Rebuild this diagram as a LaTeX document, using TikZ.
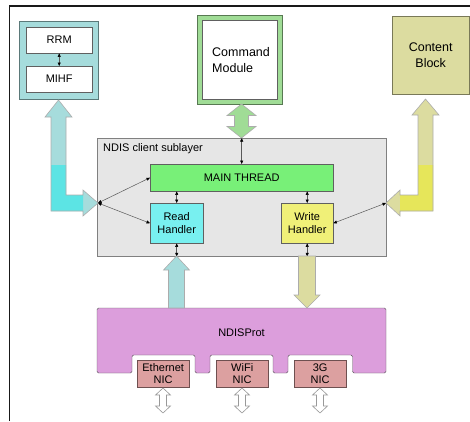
\documentclass[tikz,border=0pt]{standalone}
\usepackage{fontspec}
\setmainfont{Liberation Sans}
\usetikzlibrary{arrows.meta,calc}

\definecolor{tealPale}{RGB}{166,220,220}
\definecolor{tealBright}{RGB}{92,228,228}
\definecolor{cmdGreen}{RGB}{160,220,150}
\definecolor{blockOlive}{RGB}{220,220,160}
\definecolor{blockYellow}{RGB}{230,230,90}
\definecolor{layerGray}{RGB}{230,230,230}
\definecolor{threadGreen}{RGB}{120,240,120}
\definecolor{readCyan}{RGB}{120,240,240}
\definecolor{writeYellow}{RGB}{240,240,120}
\definecolor{protViolet}{RGB}{220,158,220}
\definecolor{nicRose}{RGB}{220,160,160}

% vertical fat double arrow: style, x, top tip, bottom tip, head half, shaft half, head length
\newcommand{\fatdouble}[7]{%
  \draw[#1] (#2,#3) -- ({#2+#5},{#3+#7}) -- ({#2+#6},{#3+#7}) -- ({#2+#6},{#4-#7})
    -- ({#2+#5},{#4-#7}) -- (#2,#4) -- ({#2-#5},{#4-#7}) -- ({#2-#6},{#4-#7})
    -- ({#2-#6},{#3+#7}) -- ({#2-#5},{#3+#7}) -- cycle;}

\begin{document}
\begin{tikzpicture}[x=1pt, y=-1pt,
	box/.style={draw=gray!75!black, rectangle, anchor=north west, inner sep=0pt,
		align=center, font=\fontsize{11}{13}\selectfont},
	nic/.style={box, fill=nicRose, draw=nicRose!50!black, minimum width=52pt,
		minimum height=27pt, font=\fontsize{11}{11.5}\selectfont},
	link/.style={{Triangle[width=3pt,length=3.5pt,color=black]}-{Triangle[width=3pt,length=3.5pt,color=black]},
		draw=gray!70!black, line width=0.5pt},
	fat/.style={draw=gray!65, line width=0.6pt, line join=miter},
]
	\useasboundingbox (0,0) rectangle (470,421);
	\draw[line width=1.3pt, black!90] (9.5,421) -- (9.5,6) -- (470,6);

	\def \leftL {(58.5,100) -- (72,117) -- (66,117) -- (66,195) -- (83,195) -- (83,190) -- (98,203)
		-- (83,216) -- (83,211) -- (51,211) -- (51,117) -- (45,117) -- cycle};
	\def \rightL {(425.5,99) -- (439,115) -- (433,115) -- (433,211) -- (400,211) -- (400,216) -- (386,203)
		-- (400,190) -- (400,195) -- (418,195) -- (418,115) -- (412,115) -- cycle};

%upper blocks
	\node[box, fill=tealPale, draw=tealPale!55!black, minimum width=79pt, minimum height=78pt] (stack) at (19,21) {};
	\node[box, fill=white, minimum width=66pt, minimum height=26pt] (rrm) at (26,27) {RRM};
	\node[box, fill=white, minimum width=66pt, minimum height=26pt] (mihf) at (26,66) {MIHF};
	\draw[link] (rrm) -- (mihf);

	\node[box, fill=cmdGreen, draw=cmdGreen!55!black, minimum width=85pt, minimum height=89pt] (cmdframe) at (197,15) {};
	\node[box, fill=white, minimum width=75pt, minimum height=79pt, text width=55pt, align=left,
		font=\fontsize{12.5}{16}\selectfont] (cmd) at (202,20) {Command\\Module};

	\node[box, fill=blockOlive, draw=blockOlive!55!black, minimum width=77pt, minimum height=78pt,
		font=\fontsize{12.5}{16}\selectfont] (content) at (392,16) {Content\\Block};

%client sublayer
	\node[box, fill=layerGray, draw=gray, minimum width=289pt, minimum height=118pt] (sub) at (97,138) {};
	\node[anchor=north west, inner sep=0pt, font=\fontsize{11}{13}\selectfont] (sublabel) at (103,143.5) {NDIS client sublayer};
	\node[box, fill=threadGreen, minimum width=183pt, minimum height=27pt] (main) at (150,164) {MAIN THREAD};
	\node[box, fill=readCyan, minimum width=53pt, minimum height=40pt] (read) at (150,203) {Read\\Handler};
	\node[box, fill=writeYellow, minimum width=52pt, minimum height=40pt] (write) at (281,203) {Write\\Handler};

	\coordinate (jl) at (98,203);
	\coordinate (jr) at (386,203);
	\draw[link] (jl) -- (main.west);
	\draw[link] (jl) -- (read.west);
	\draw[link] (jr) -- (write.east);
	\draw[link] (main.north) -- (main.north |- sub.north);
	\draw[link] (read.north) -- (read.north |- main.south);
	\draw[link] (write.north) -- (write.north |- main.south);
	\draw[link] (read.south) -- (read.south |- sub.south);
	\draw[link] (write.south) -- (write.south |- sub.south);

%protocol driver and NICs
	\draw[fill=protViolet, draw=gray!70!black, rounded corners=1.5pt] (97,308) -- (386,308) -- (386,373)
		-- (352.5,373) -- (352.5,355) -- (288,355) -- (288,373) -- (273,373) -- (273,355) -- (210,355)
		-- (210,373) -- (195,373) -- (195,355) -- (132,355) -- (132,373) -- (97,373) -- cycle;
	\node[font=\fontsize{11}{13}\selectfont] (prot) at (241.5,333) {NDISProt};
	\node[nic] (eth) at (137,360) {Ethernet\\NIC};
	\node[nic] (wifi) at (216,360) {WiFi\\NIC};
	\node[nic] (tg) at (294,360) {3G\\NIC};

%fat arrows
	\fill[tealPale] \leftL;
	\fill[tealBright] (51,165) rectangle (66,211) (66,195) rectangle (83,211);
	\draw[fat] \leftL;
	\fill[blockOlive] \rightL;
	\fill[blockYellow] (418,165) rectangle (433,211) (400,195) rectangle (418,211);
	\draw[fat] \rightL;

	\fatdouble{fat, fill=cmdGreen}{241.5}{104}{138}{14.5}{7}{11.5}
	\draw[fat, fill=tealPale] (176.5,256) -- (189.5,270) -- (184.5,270) -- (184.5,308) -- (168.5,308)
		-- (168.5,270) -- (163.5,270) -- cycle;
	\draw[fat, fill=blockOlive] (298.5,256) -- (315.5,256) -- (315.5,295) -- (320,295) -- (307,308)
		-- (294,295) -- (298.5,295) -- cycle;
	\foreach \cx in {163,242,320} {
		\fatdouble{fat, fill=white, draw=gray!80}{\cx}{388}{413}{7.5}{3.5}{7}
	}
\end{tikzpicture}
\end{document}
